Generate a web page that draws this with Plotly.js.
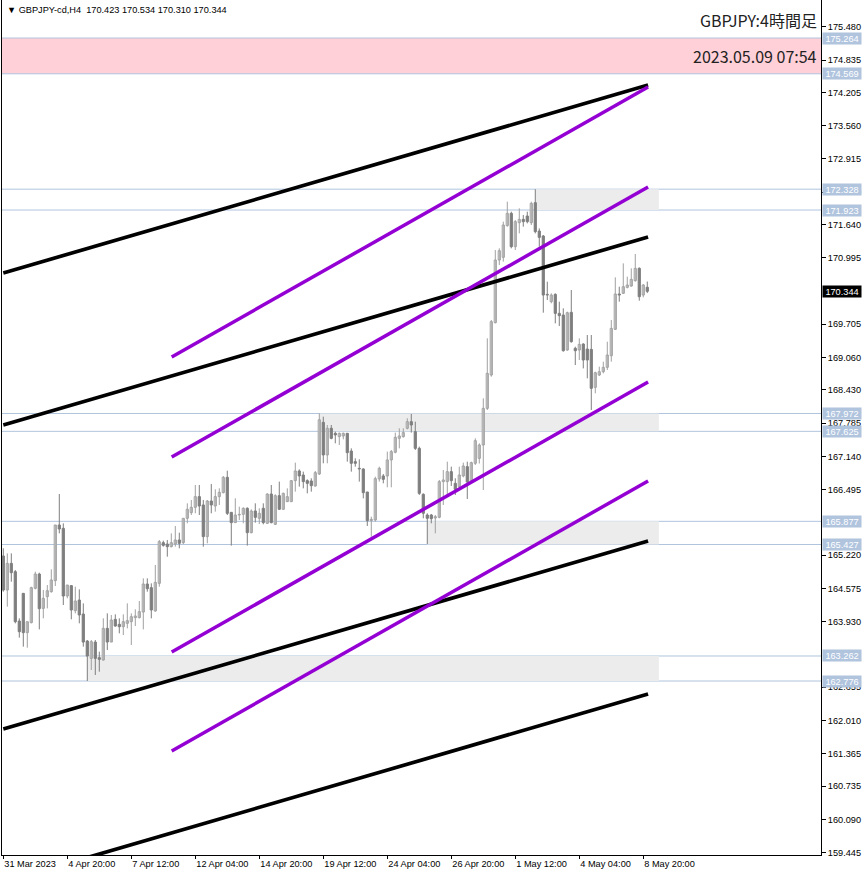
<!DOCTYPE html>
<html><head><meta charset="utf-8">
<script src="https://cdn.plot.ly/plotly-3.0.1.min.js"></script>
<style>html,body{margin:0;padding:0;background:#fff;}#chart{width:866px;height:876px;}</style>
</head><body><div id="chart"></div>
<script>
const openP = [165.204,164.543,165.061,164.899,163.941,164.479,163.715,163.909,164.576,164.854,
164.187,164.414,164.511,164.725,165.806,165.741,164.427,164.628,164.142,164.349,
164.077,163.553,163.216,163.533,163.229,163.184,163.799,163.533,163.974,163.877,
163.831,163.896,163.928,164.006,164.006,164.116,164.660,164.589,164.136,164.673,
165.463,165.437,165.385,165.437,165.515,165.463,165.936,166.046,166.149,166.357,
166.195,165.580,166.272,166.175,166.357,166.434,166.732,166.052,165.852,166.000,
166.013,166.130,165.657,166.078,165.936,166.130,165.839,166.408,165.819,166.376,
166.111,166.259,166.259,166.667,166.855,166.777,166.667,166.661,166.564,166.797,
167.800,167.166,167.684,167.587,167.522,167.535,167.587,167.243,167.036,166.907,
166.894,166.447,165.890,165.903,166.700,166.758,166.758,167.069,167.218,167.489,
167.522,167.684,167.813,167.619,167.295,166.402,166.000,166.000,165.942,165.955,
166.648,166.648,166.842,166.615,166.551,166.758,166.939,166.648,167.004,167.100,
167.360,168.071,168.719,169.735,170.952,171.004,171.619,171.859,171.211,171.677,
171.742,171.807,171.677,172.066,171.515,171.418,170.285,170.143,170.285,169.916,
169.884,169.204,169.936,169.237,169.204,169.321,169.224,169.217,168.479,168.719,
168.783,168.868,169.094,169.606,170.292,170.305,170.421,170.447,170.551,170.790,
170.272,170.423];
const highP = [165.353,165.255,165.255,164.932,163.993,164.479,163.928,164.608,164.899,164.880,
164.543,164.640,164.945,165.806,166.408,165.838,164.640,164.640,164.608,164.556,
164.284,163.572,163.572,163.572,163.346,163.993,164.090,164.058,164.071,163.993,
164.071,164.284,164.090,164.168,164.330,164.770,164.770,164.673,165.029,165.514,
165.502,165.514,165.644,165.787,165.657,165.936,166.227,166.292,166.583,166.583,
166.292,166.292,166.603,166.499,166.518,166.758,166.861,166.052,166.324,166.162,
166.149,166.149,166.111,166.227,166.130,166.227,166.421,166.583,166.402,166.648,
166.434,166.518,166.680,167.017,166.887,166.842,166.693,166.713,166.855,167.975,
167.910,167.748,167.748,167.619,167.600,167.600,167.587,167.295,167.101,167.082,
166.907,166.447,165.968,166.745,166.939,166.797,167.231,167.263,167.600,167.684,
167.684,167.878,167.962,167.813,167.328,166.421,166.033,166.020,166.000,166.680,
166.874,167.036,166.939,166.713,166.939,167.017,167.036,167.036,167.490,167.392,
168.266,169.431,169.787,171.146,171.179,171.697,172.085,171.891,171.729,171.956,
171.826,171.891,172.085,172.328,171.567,171.438,170.531,170.305,170.305,170.143,
170.014,169.949,170.370,169.269,169.431,169.334,169.496,169.496,168.783,168.881,
168.978,169.366,169.787,170.616,170.434,170.887,170.629,170.790,171.069,170.810,
170.486,170.534];
const lowP = [164.511,164.220,164.705,163.896,163.618,163.443,163.423,163.896,164.556,163.779,
163.993,164.187,164.492,164.621,165.644,164.252,164.382,163.974,164.090,163.896,
163.443,162.776,162.990,162.893,162.957,163.171,163.378,163.533,163.831,163.702,
163.669,163.799,163.475,163.844,163.993,163.779,164.511,163.993,164.123,164.608,
165.385,165.191,165.372,165.385,165.353,165.437,165.839,166.000,166.033,166.000,
165.385,165.450,166.033,166.065,166.195,166.421,166.000,165.405,165.852,165.903,
165.839,165.405,165.644,165.852,165.826,165.819,165.826,165.839,165.806,166.098,
166.098,166.253,166.253,166.454,166.551,166.518,166.421,166.454,166.551,166.777,
167.004,167.004,167.470,167.392,167.360,167.470,167.036,166.842,166.939,166.648,
166.324,165.787,165.580,165.871,166.648,166.615,166.538,166.538,167.198,167.295,
167.502,167.664,167.600,167.263,166.389,165.936,165.437,165.839,165.644,165.936,
166.195,166.389,166.564,166.389,166.538,166.732,166.311,166.635,166.972,167.000,
166.486,168.039,168.686,169.722,170.855,170.920,171.600,171.179,171.146,171.470,
171.600,171.664,171.632,171.470,171.211,169.929,170.175,170.111,169.722,169.670,
169.172,169.191,169.347,168.913,169.010,168.848,168.654,168.039,168.363,168.699,
168.751,168.816,168.978,169.593,170.143,170.292,170.402,170.434,170.531,170.162,
170.227,170.310];
const closeP = [164.543,165.061,164.880,163.928,163.734,163.715,163.928,164.589,164.854,164.181,
164.382,164.530,164.738,165.806,165.728,164.427,164.640,164.155,164.330,164.058,
163.533,163.261,163.540,163.216,163.197,163.799,163.533,163.961,163.844,163.831,
163.928,163.948,164.025,164.038,164.123,164.660,164.569,164.155,164.692,165.482,
165.411,165.385,165.463,165.515,165.450,165.936,166.111,166.149,166.357,166.175,
165.580,166.272,166.195,166.357,166.441,166.732,166.033,165.852,166.000,166.013,
166.130,165.657,166.078,165.955,166.033,165.852,166.408,165.852,166.376,166.111,
166.421,166.357,166.667,166.855,166.758,166.648,166.615,166.570,166.823,167.850,
167.166,167.684,167.489,167.554,167.587,167.587,167.211,167.004,167.004,166.894,
166.434,165.890,165.916,166.706,166.907,166.693,167.069,167.231,167.509,167.535,
167.600,167.813,167.748,167.295,166.421,166.033,165.936,165.929,165.968,166.648,
166.680,166.842,166.667,166.499,166.777,166.952,166.641,167.017,167.444,167.360,
168.072,168.751,169.755,170.952,171.133,171.632,171.859,171.211,171.697,171.742,
171.697,171.697,172.053,171.503,171.392,170.272,170.272,170.272,169.916,169.871,
169.191,169.929,169.366,169.191,169.314,169.010,169.010,168.460,168.764,168.783,
168.868,169.107,169.625,170.292,170.272,170.434,170.467,170.577,170.790,170.240,
170.467,170.344];

const dateTickIndex = [0,16,32,48,64,80,96,112,128,144,160];
const dateTickText = ["31 Mar 2023","4 Apr 20:00","7 Apr 12:00","12 Apr 04:00","14 Apr 20:00","19 Apr 12:00","24 Apr 04:00","26 Apr 20:00","1 May 12:00","4 May 04:00","8 May 20:00"];
const priceTicks = [175.480,174.835,174.205,173.560,172.915,172.270,171.640,170.995,169.705,169.060,168.430,167.785,167.140,166.495,165.220,164.575,163.930,162.655,162.010,161.365,160.735,160.090,159.445];
const levels = [175.264,174.569,172.328,171.923,167.972,167.625,165.877,165.427,163.262,162.776];
const pinkZone = [174.569,175.264];
const grayTop = [172.328,167.972,165.877,163.262];
const grayBottom = [171.923,167.625,165.427,162.776];
const grayStartBar = [133,79,106,21];
const grayEndBar = [163.9,163.9,163.9,163.9];
const blackStartBar = 0, blackEndBar = 161.2;
const blackStartPrice = [170.700,167.748,161.844,158.872];
const blackEndPrice = [174.351,171.399,165.495,162.523];
const purpleStartBar = 42.1, purpleEndBar = 161.2;
const purpleStartPrice = [169.069,167.126,163.339,161.417];
const purpleEndPrice = [174.312,172.370,168.583,166.660];
const symbolName = "GBPJPY-cd,H4";
const titleText = "GBPJPY:4時間足";
const timeText = "2023.05.09 07:54";

const n = openP.length;
const FONT = "Liberation Sans, Arial, sans-serif";
const bullIdx = [], bearIdx = [];
for (let i = 0; i < n; i++) (closeP[i] >= openP[i] ? bullIdx : bearIdx).push(i);

function wick(ids, color) {
  const x = [], y = [];
  ids.forEach(i => { x.push(i, i, null); y.push(lowP[i], highP[i], null); });
  return {type:'scatter', mode:'lines', x, y, line:{color, width:1}, hoverinfo:'skip'};
}
function body(ids, fill, line) {
  return {type:'bar', x: ids,
    base: ids.map(i => Math.min(openP[i], closeP[i])),
    y: ids.map(i => Math.max(Math.abs(closeP[i]-openP[i]), 0.012)),
    width: 0.55, marker:{color: fill, line:{color: line, width:1}}, hoverinfo:'skip'};
}
const traces = [wick(bullIdx,'#a0a0a0'), wick(bearIdx,'#7f7f7f'),
  body(bullIdx,'#ffffff','#a0a0a0'), body(bearIdx,'#808080','#7f7f7f')];
for (let k = 0; k < blackStartPrice.length; k++) {
  traces.push({type:'scatter', mode:'lines', x:[blackStartBar, blackEndBar], y:[blackStartPrice[k], blackEndPrice[k]],
    line:{color:'#000000', width:3.7}, hoverinfo:'skip'});
}
for (let k = 0; k < purpleStartPrice.length; k++) {
  traces.push({type:'scatter', mode:'lines', x:[purpleStartBar, purpleEndBar], y:[purpleStartPrice[k], purpleEndPrice[k]],
    line:{color:'#9400d3', width:3.5}, hoverinfo:'skip'});
}

const shapes = [];
shapes.push({type:'rect', xref:'paper', x0:0, x1:1, yref:'y', y0:pinkZone[0], y1:pinkZone[1],
  fillcolor:'#ffd0d7', line:{width:0}, layer:'below'});
for (let k = 0; k < grayTop.length; k++) {
  shapes.push({type:'rect', xref:'x', x0:grayStartBar[k], x1:grayEndBar[k], yref:'y', y0:grayBottom[k], y1:grayTop[k],
    fillcolor:'#ececec', line:{width:0}, layer:'below'});
}
levels.forEach(v => shapes.push({type:'line', xref:'paper', x0:0, x1:1, yref:'y', y0:v, y1:v,
  line:{color:'#b0c4de', width:1}, layer:'below'}));

const annotations = [];
levels.forEach(v => annotations.push({xref:'paper', x:1, xanchor:'left', xshift:1, yref:'y', y:v, yanchor:'middle',
  text:v.toFixed(3), showarrow:false, bgcolor:'#b0c4de', width:38, height:11, borderpad:0,
  font:{family:FONT, size:9.2, color:'#ffffff'}}));
const last = n - 1;
annotations.push({xref:'paper', x:1, xanchor:'left', xshift:1, yref:'y', y:closeP[last], yanchor:'middle',
  text:closeP[last].toFixed(3), showarrow:false, bgcolor:'#000000', width:38, height:11, borderpad:0,
  font:{family:FONT, size:9.2, color:'#ffffff'}});
annotations.push({xref:'paper', x:0, xanchor:'left', xshift:3, yref:'paper', y:1, yanchor:'top', yshift:-3,
  text:'▼\u00a0' + symbolName + '\u00a0\u00a0' + [openP[last],highP[last],lowP[last],closeP[last]].map(v=>v.toFixed(3)).join(' '),
  showarrow:false, font:{family:FONT, size:9.2, color:'#000000'}});
annotations.push({xref:'paper', x:1, xanchor:'right', xshift:-2, yref:'paper', y:1-20/855, yanchor:'middle',
  text:titleText, showarrow:false, font:{family:'Noto Sans CJK JP, sans-serif', size:16, color:'#222222'}});
annotations.push({xref:'paper', x:1, xanchor:'right', xshift:-2, yref:'paper', y:1-56/855, yanchor:'middle',
  text:timeText, showarrow:false, font:{family:'Noto Sans CJK JP, sans-serif', size:16, color:'#222222'}});

const layout = {
  width:866, height:876, margin:{l:2, r:45, t:0, b:21},
  paper_bgcolor:'#ffffff', plot_bgcolor:'#ffffff',
  showlegend:false, hovermode:false, barmode:'overlay',
  xaxis:{range:[-0.325, 204.43], tickvals:dateTickIndex, ticktext:dateTickText, ticks:'outside', ticklen:3,
    tickcolor:'#000', ticklabelposition:'outside right', showline:true, linecolor:'#000', linewidth:1,
    showgrid:false, zeroline:false, fixedrange:true, tickfont:{family:FONT, size:9.2, color:'#000'}},
  yaxis:{side:'right', range:[159.397, 176.002], tickvals:priceTicks, ticktext:priceTicks.map(v=>v.toFixed(3)),
    ticks:'outside', ticklen:4, tickcolor:'#000', showline:true, mirror:true, linecolor:'#000', linewidth:1,
    showgrid:false, zeroline:false, fixedrange:true, tickfont:{family:FONT, size:9.2, color:'#000'}},
  shapes, annotations
};
Plotly.newPlot('chart', traces, layout, {staticPlot:true, displayModeBar:false});
</script></body></html>
